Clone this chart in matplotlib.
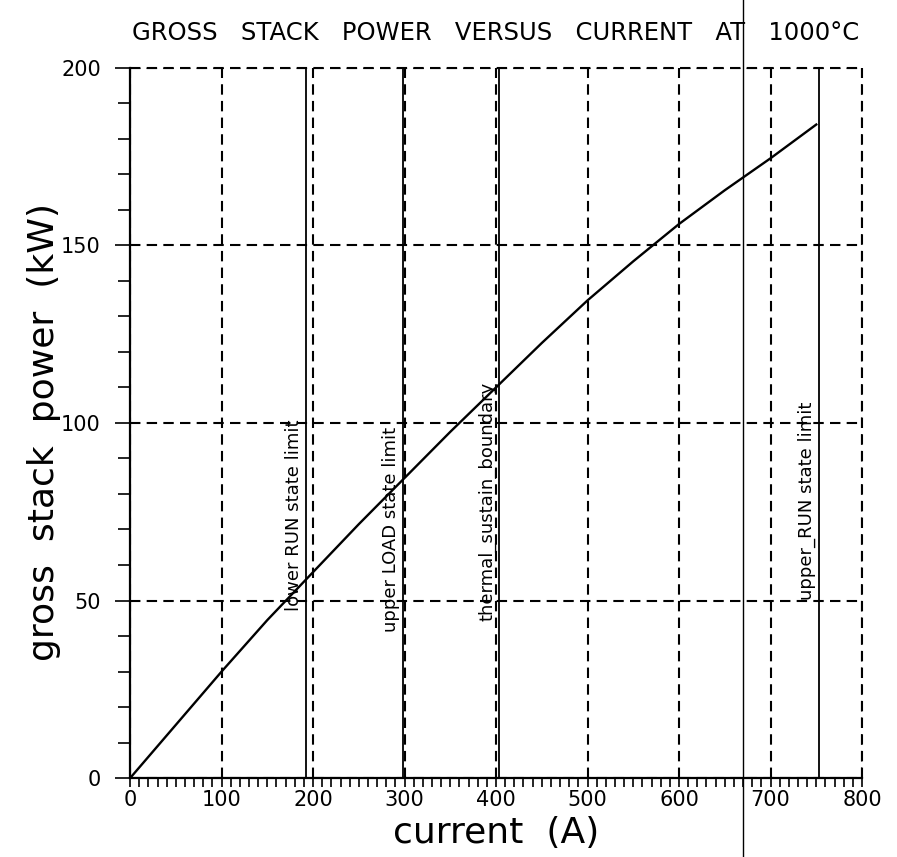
import numpy as np
import matplotlib
matplotlib.use("Agg")
import matplotlib.pyplot as plt
from matplotlib.ticker import MultipleLocator

# power curve
current = [0, 50, 100, 150, 200, 250, 300, 350, 400, 450, 500, 550, 600, 650, 700, 750]
power = [0, 15, 30, 44.5, 58, 71.5, 84.5, 97.5, 110, 122.5, 134.5, 145.5, 156, 165.5, 174.5, 184]

# state limit lines and their labels
limit_current = [192, 298, 403, 753]
limit_labels = ["lower RUN state limit", "upper LOAD state limit",
                "thermal_sustain_boundary", "upper_RUN state limit"]
label_power = [74, 70, 78, 78]

x_ticks = [0, 100, 200, 300, 400, 500, 600, 700, 800]
y_ticks = [0, 50, 100, 150, 200]

scan_line = 670  # stray vertical line on the scanned page

fig = plt.figure(figsize=(8.97, 8.57), dpi=100)
ax = fig.add_axes([0.145, 0.092, 0.816, 0.829])

ax.plot(current, power, color="black", lw=1.7, zorder=4)

for xc, lab, yp in zip(limit_current, limit_labels, label_power):
    ax.plot([xc, xc], [0, 200], color="black", lw=1.3, zorder=3)
    ax.text(xc - 3, yp, lab, rotation=90, ha="right", va="center",
            fontsize=13, color="black")

ax.set_xlim(0, 800)
ax.set_ylim(0, 200)
ax.set_xticks(x_ticks)
ax.set_yticks(y_ticks)
ax.xaxis.set_minor_locator(MultipleLocator(10))
ax.yaxis.set_minor_locator(MultipleLocator(10))

ax.grid(which="major", color="black", linestyle=(0, (5, 3)), lw=1.5)
ax.axhline(200, color="black", linestyle=(0, (5, 3)), lw=1.5, clip_on=False)
ax.axvline(800, color="black", linestyle=(0, (5, 3)), lw=1.5, clip_on=False)
ax.axvline(scan_line, ymin=-0.12, ymax=1.11, color="black", lw=1.0,
           clip_on=False, zorder=5)

ax.spines["top"].set_visible(False)
ax.spines["right"].set_visible(False)
ax.spines["left"].set_linewidth(1.6)
ax.spines["bottom"].set_linewidth(1.6)
ax.spines["left"].set_zorder(6)
ax.spines["bottom"].set_zorder(6)

ax.tick_params(axis="x", which="both", direction="out", length=6.5, width=1.2,
               labelsize=15, pad=2)
ax.tick_params(axis="y", which="major", direction="out", length=11, width=1.2,
               labelsize=15, pad=10)
ax.tick_params(axis="y", which="minor", direction="out", length=8.5, width=1.2)

ax.set_xlabel("current  (A)", fontsize=26, labelpad=4)
ax.set_ylabel("gross  stack  power  (kW)", fontsize=26)
ax.yaxis.set_label_coords(-0.095, 0.487)
ax.set_title("GROSS   STACK   POWER   VERSUS   CURRENT   AT   1000°C",
             fontsize=17.5, pad=20)

fig.savefig("out.png", dpi=100)
